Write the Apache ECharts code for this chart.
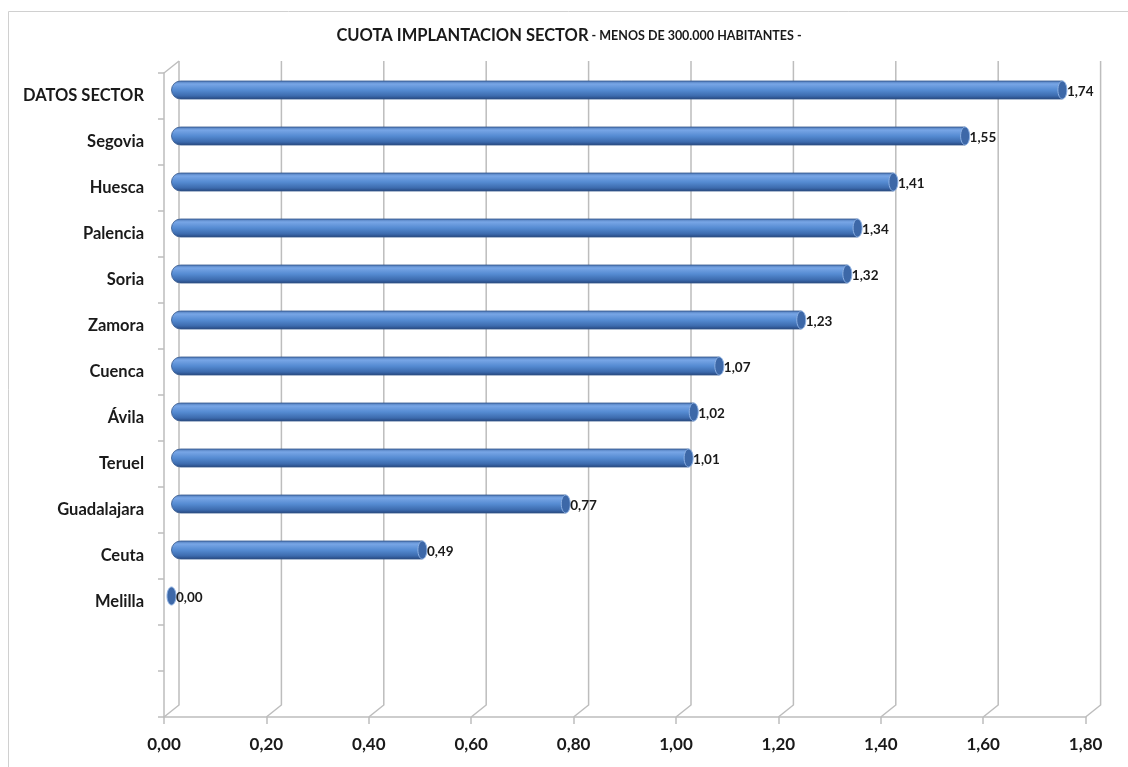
<!DOCTYPE html>
<html><head><meta charset="utf-8">
<script src="https://cdn.jsdelivr.net/npm/echarts@6/dist/echarts.min.js"></script>
<style>html,body{margin:0;padding:0;background:#fff}#c{width:1128px;height:767px}</style>
</head><body><div id="c"></div>
<script>
var categories = ['DATOS SECTOR','Segovia','Huesca','Palencia','Soria','Zamora','Cuenca','Ávila','Teruel','Guadalajara','Ceuta','Melilla','',''];
var values = [1.74,1.55,1.41,1.34,1.32,1.23,1.07,1.02,1.01,0.77,0.49,0.00];
var xTicks = [0,0.2,0.4,0.6,0.8,1.0,1.2,1.4,1.6,1.8];
var titleMain = 'CUOTA IMPLANTACION SECTOR';
var titleSub = ' - MENOS DE 300.000 HABITANTES -';

var FONT = 'Lato, "Open Sans", sans-serif';
var DX = 15, DY = 12;       // depth of the 3D box
var GRID_W = 921.6, GRID_H = 644;
function fmt(v){ return v.toFixed(2).replace('.', ','); }

var chart = echarts.init(document.getElementById('c'), null, {renderer:'canvas'});
chart.setOption({
  backgroundColor:'#fff',
  animation:false,
  title:{
    text:'{a|'+titleMain+'}{b|'+titleSub+'}',
    left:564, top:22, textAlign:'center',
    textStyle:{rich:{
      a:{fontFamily:FONT,fontWeight:'bold',fontSize:16.5,color:'#1a1a1a'},
      b:{fontFamily:FONT,fontWeight:'bold',fontSize:12.5,color:'#1a1a1a'}
    }}
  },
  graphic:[{type:'rect',shape:{x:8.5,y:11.5,width:1130,height:770},style:{fill:'none',stroke:'#d0d0d0',lineWidth:1},silent:true,z:-10}],
  grid:[
    {left:164, top:73, width:GRID_W, height:GRID_H},                 // front
    {left:164+DX/2, top:73-DY/2, width:GRID_W, height:GRID_H}        // bars (mid-depth)
  ],
  xAxis:[
    {type:'value', gridIndex:0, min:0, max:1.8, interval:0.2,
     axisLine:{show:true,lineStyle:{color:'#bdbdbd',width:1.5}},
     axisTick:{show:true,length:7,lineStyle:{color:'#bdbdbd',width:1.5}},
     splitLine:{show:false},
     axisLabel:{margin:19,fontFamily:FONT,fontWeight:'bold',fontSize:17,color:'#1a1a1a',formatter:function(v){return fmt(v);}}},
    {type:'value', gridIndex:1, min:0, max:1.8, interval:0.2, show:false}
  ],
  yAxis:[
    {type:'category', gridIndex:0, data:categories, inverse:true,
     axisLine:{show:true,lineStyle:{color:'#bdbdbd',width:1.5}},
     axisTick:{show:true,length:6,interval:0,lineStyle:{color:'#bdbdbd',width:1.5}},
     axisLabel:{margin:20,interval:0,fontFamily:FONT,fontWeight:'bold',fontSize:16.5,color:'#1a1a1a',padding:[3,0,0,0]}},
    {type:'category', gridIndex:1, data:categories, inverse:true, show:false}
  ],
  series:[
    { // walls and floor gridlines
      type:'custom', xAxisIndex:0, yAxisIndex:0, silent:true, z:1,
      data:xTicks.map(function(t){return [t];}),
      renderItem:function(params, api){
        var cs = params.coordSys;
        var x = api.coord([api.value(0), 0])[0];
        var yb = cs.y + cs.height, yt = cs.y;
        var children = [{type:'polyline',shape:{points:[[x,yb],[x+DX,yb-DY],[x+DX,yt-DY]]},
          style:{stroke:'#bdbdbd',lineWidth:1.5,fill:null}}];
        if (params.dataIndex === 0) {
          children.push({type:'line',shape:{x1:x,y1:yt,x2:x+DX,y2:yt-DY},style:{stroke:'#bdbdbd',lineWidth:1.5}});
        }
        return {type:'group',children:children};
      }
    },
    { // cylinder bars
      type:'custom', xAxisIndex:1, yAxisIndex:1, z:3,
      data:values.map(function(v,i){return [v,i];}),
      renderItem:function(params, api){
        var v = api.value(0), i = api.value(1);
        var p0 = api.coord([0, i]), p1 = api.coord([v, i]);
        var h = 18, r = 4.5;
        var x0 = p0[0], x1 = p1[0], yc = p0[1];
        var grad = new echarts.graphic.LinearGradient(0,0,0,1,[
          {offset:0,color:'#4a74b3'},{offset:0.18,color:'#78a6e6'},{offset:0.5,color:'#558bd2'},
          {offset:0.82,color:'#3c6aad'},{offset:1,color:'#24447a'}]);
        var ch = [];
        if (x1 - x0 > 0.5) {
          ch.push({type:'rect',shape:{x:x0,y:yc-h/2,width:x1-x0,height:h,r:[h/2,0,0,h/2]},
            style:{fill:grad,stroke:'#34578c',lineWidth:0.8}});
        }
        ch.push({type:'ellipse',shape:{cx:x1,cy:yc,rx:r,ry:h/2},
          style:{fill:'#3d68a8',stroke:'#8cb0e3',lineWidth:1}});
        ch.push({type:'text',x:x1+r,y:yc+2,style:{text:fmt(v),fontFamily:FONT,fontWeight:'bold',fontSize:13.5,
          fill:'#1a1a1a',textVerticalAlign:'middle',verticalAlign:'middle',align:'left'}});
        return {type:'group',children:ch};
      }
    }
  ]
});
</script></body></html>
